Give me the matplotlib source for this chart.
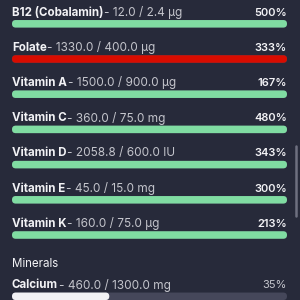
import matplotlib
matplotlib.use("Agg")
import matplotlib.pyplot as plt
from matplotlib.patches import FancyBboxPatch

# nutrient rows (vitamins then minerals)
vitamins = ["B12 (Cobalamin)", "Folate", "Vitamin A", "Vitamin C",
            "Vitamin D", "Vitamin E", "Vitamin K"]
vit_amount = [12.0, 1330.0, 1500.0, 360.0, 2058.8, 45.0, 160.0]
vit_target = [2.4, 400.0, 900.0, 75.0, 600.0, 15.0, 75.0]
vit_unit = ["µg", "µg", "µg", "mg", "IU", "mg", "µg"]
vit_over_limit = [False, True, False, False, False, False, False]

minerals = ["Calcium"]
min_amount = [460.0]
min_target = [1300.0]
min_unit = ["mg"]

BG = "#272a3a"
GREEN = "#80dca2"
RED = "#d80c00"
TRACK = "#45475a"
WHITE = "#f2f2f5"
GREY = "#c4c5cc"

plt.rcParams["font.family"] = ["Inter", "DejaVu Sans"]

fig = plt.figure(figsize=(3, 3), dpi=100, facecolor=BG)
ax = fig.add_axes([0, 0, 1, 1])
ax.set_facecolor(BG)
ax.set_xlim(0, 300)
ax.set_ylim(300, 0)
ax.axis("off")

X0, X1 = 12, 287
BAR_H = 7.5
STEP = 35.2


def pill(x, y, w, color):
    r = BAR_H / 2
    p = FancyBboxPatch((x + r, y - 0.01), max(w - 2 * r, 0.01), 0.02,
                       boxstyle=f"round,pad={r - 0.01}", linewidth=0,
                       facecolor=color)
    ax.add_patch(p)


def draw_row(y, name, amt, tgt, unit, color):
    pct = amt / tgt * 100
    t1 = ax.text(X0, y, name, fontsize=8.3, fontweight="bold", color=WHITE,
                 va="center", ha="left")
    ax.annotate(f"- {amt:.1f} / {tgt:.1f} {unit}", xy=(1, 0.5),
                xycoords=t1, xytext=(0.5, 0), textcoords="offset points",
                fontsize=8.5, color=GREY, va="center", ha="left")
    full = pct >= 100
    ax.text(X1, y, f"{int(pct + 0.5)}%", fontsize=8,
            fontweight="semibold" if full else "normal",
            color=WHITE if full else GREY, va="center", ha="right")
    by = y + 11.3
    pill(X0, by, X1 - X0, TRACK)
    pill(X0, by, (X1 - X0) * min(pct, 100) / 100, color)


y = 12.5
for i, name in enumerate(vitamins):
    c = RED if vit_over_limit[i] else GREEN
    draw_row(y, name, vit_amount[i], vit_target[i], vit_unit[i], c)
    y += STEP

ax.text(X0, 264, "Minerals", fontsize=8.3, color=WHITE, va="center", ha="left")

y = 285
for i, name in enumerate(minerals):
    draw_row(y, name, min_amount[i], min_target[i], min_unit[i], WHITE)
    y += STEP

# scrollbar
ax.plot([296, 296], [146, 216], color="#6e7080", lw=1.8, solid_capstyle="round")

fig.savefig("out.png", dpi=100, facecolor=BG)
